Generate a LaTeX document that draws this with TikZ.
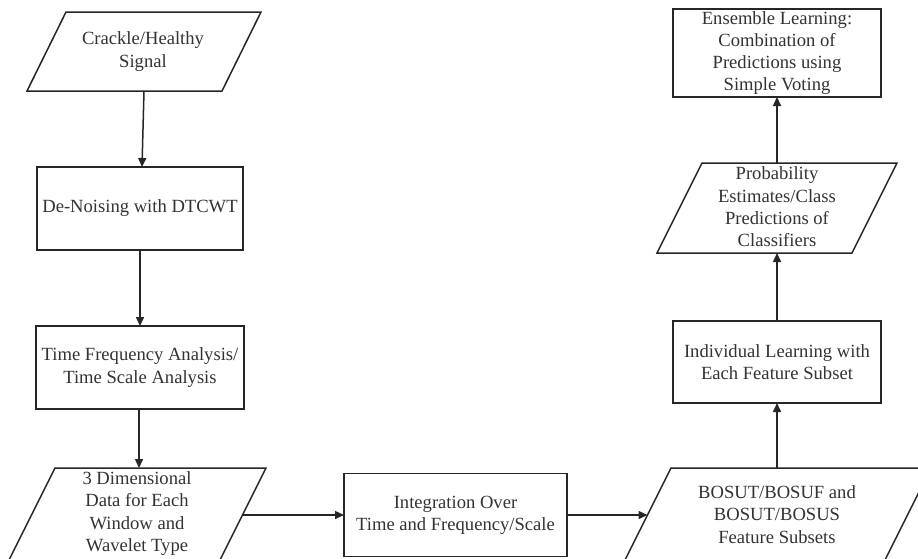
\documentclass[tikz,border=0pt]{standalone}
\usepackage{fontspec}
\setmainfont{Liberation Serif}
\usetikzlibrary{arrows.meta}
\tikzset{
  txt/.style={align=center, text=black!80, inner sep=0pt,
    font=\fontsize{18.6}{22.3}\selectfont},
  procbox/.style={txt, draw=black!85, line width=1.5pt, outer sep=0pt},
  ioshape/.style={draw=black!85, line width=1.5pt, line join=miter},
  flow/.style={draw=black!85, line width=1.5pt,
    -{Triangle[length=9pt,width=8pt]}}
}
\begin{document}
\begin{tikzpicture}[x=1pt,y=-1pt]
\useasboundingbox (0,0) rectangle (918,558);
\fill[white] (0,0) rectangle (918,558);

% left column
\draw[ioshape] (66,12) -- (261,12) -- (222,91) -- (27,91) -- cycle;
\node[txt] (sig) at (143,51.5) {Crackle/Healthy\\Signal};
\coordinate (sigS) at (144,91);

\node[procbox, minimum width=206pt, minimum height=83pt] (den) at (140,208.5) {De-Noising with DTCWT};
\node[procbox, minimum width=208pt, minimum height=83pt] (tfa) at (140,367.5) {Time Frequency Analysis/\\Time Scale Analysis};

\draw[ioshape] (55,468) -- (266,468) -- (212,576) -- (1,576) -- cycle;
\node[txt] (dat) at (137,513.5) {3 Dimensional\\Data for Each\\Window and\\Wavelet Type};
\coordinate (datN) at (139,468);
\coordinate (datE) at (242.5,515);

% bottom middle
\node[procbox, minimum width=223pt, minimum height=83pt] (int) at (455.5,515) {Integration Over\\Time and Frequency/Scale};

% right column
\draw[ioshape] (671,468) -- (931,468) -- (877,576) -- (617,576) -- cycle;
\node[txt] (fea) at (777,514.5) {BOSUT/BOSUF and\\BOSUT/BOSUS\\Feature Subsets};
\coordinate (feaW) at (647.5,515);
\coordinate (feaN) at (777,468);

\node[procbox, minimum width=208pt, minimum height=82pt] (ind) at (777,362) {Individual Learning with\\Each Feature Subset};

\draw[ioshape] (702,163) -- (897,163) -- (852,253) -- (657,253) -- cycle;
\node[txt] (prb) at (777,207) {Probability\\Estimates/Class\\Predictions of\\Classifiers};
\coordinate (prbS) at (777,253);
\coordinate (prbN) at (777,163);

\node[procbox, minimum width=208pt, minimum height=88pt] (ens) at (777,53) {Ensemble Learning:\\Combination of\\Predictions using\\Simple Voting};

% connectors
\draw[flow] (sigS) -- ([xshift=2pt]den.north);
\draw[flow] (den.south) -- (tfa.north -| den.south);
\draw[flow] (tfa.south -| datN) -- (datN);
\draw[flow] (datE) -- (int.west);
\draw[flow] (int.east) -- (feaW);
\draw[flow] (feaN) -- (ind.south);
\draw[flow] (ind.north) -- (prbS);
\draw[flow] (prbN) -- (ens.south);
\end{tikzpicture}
\end{document}
